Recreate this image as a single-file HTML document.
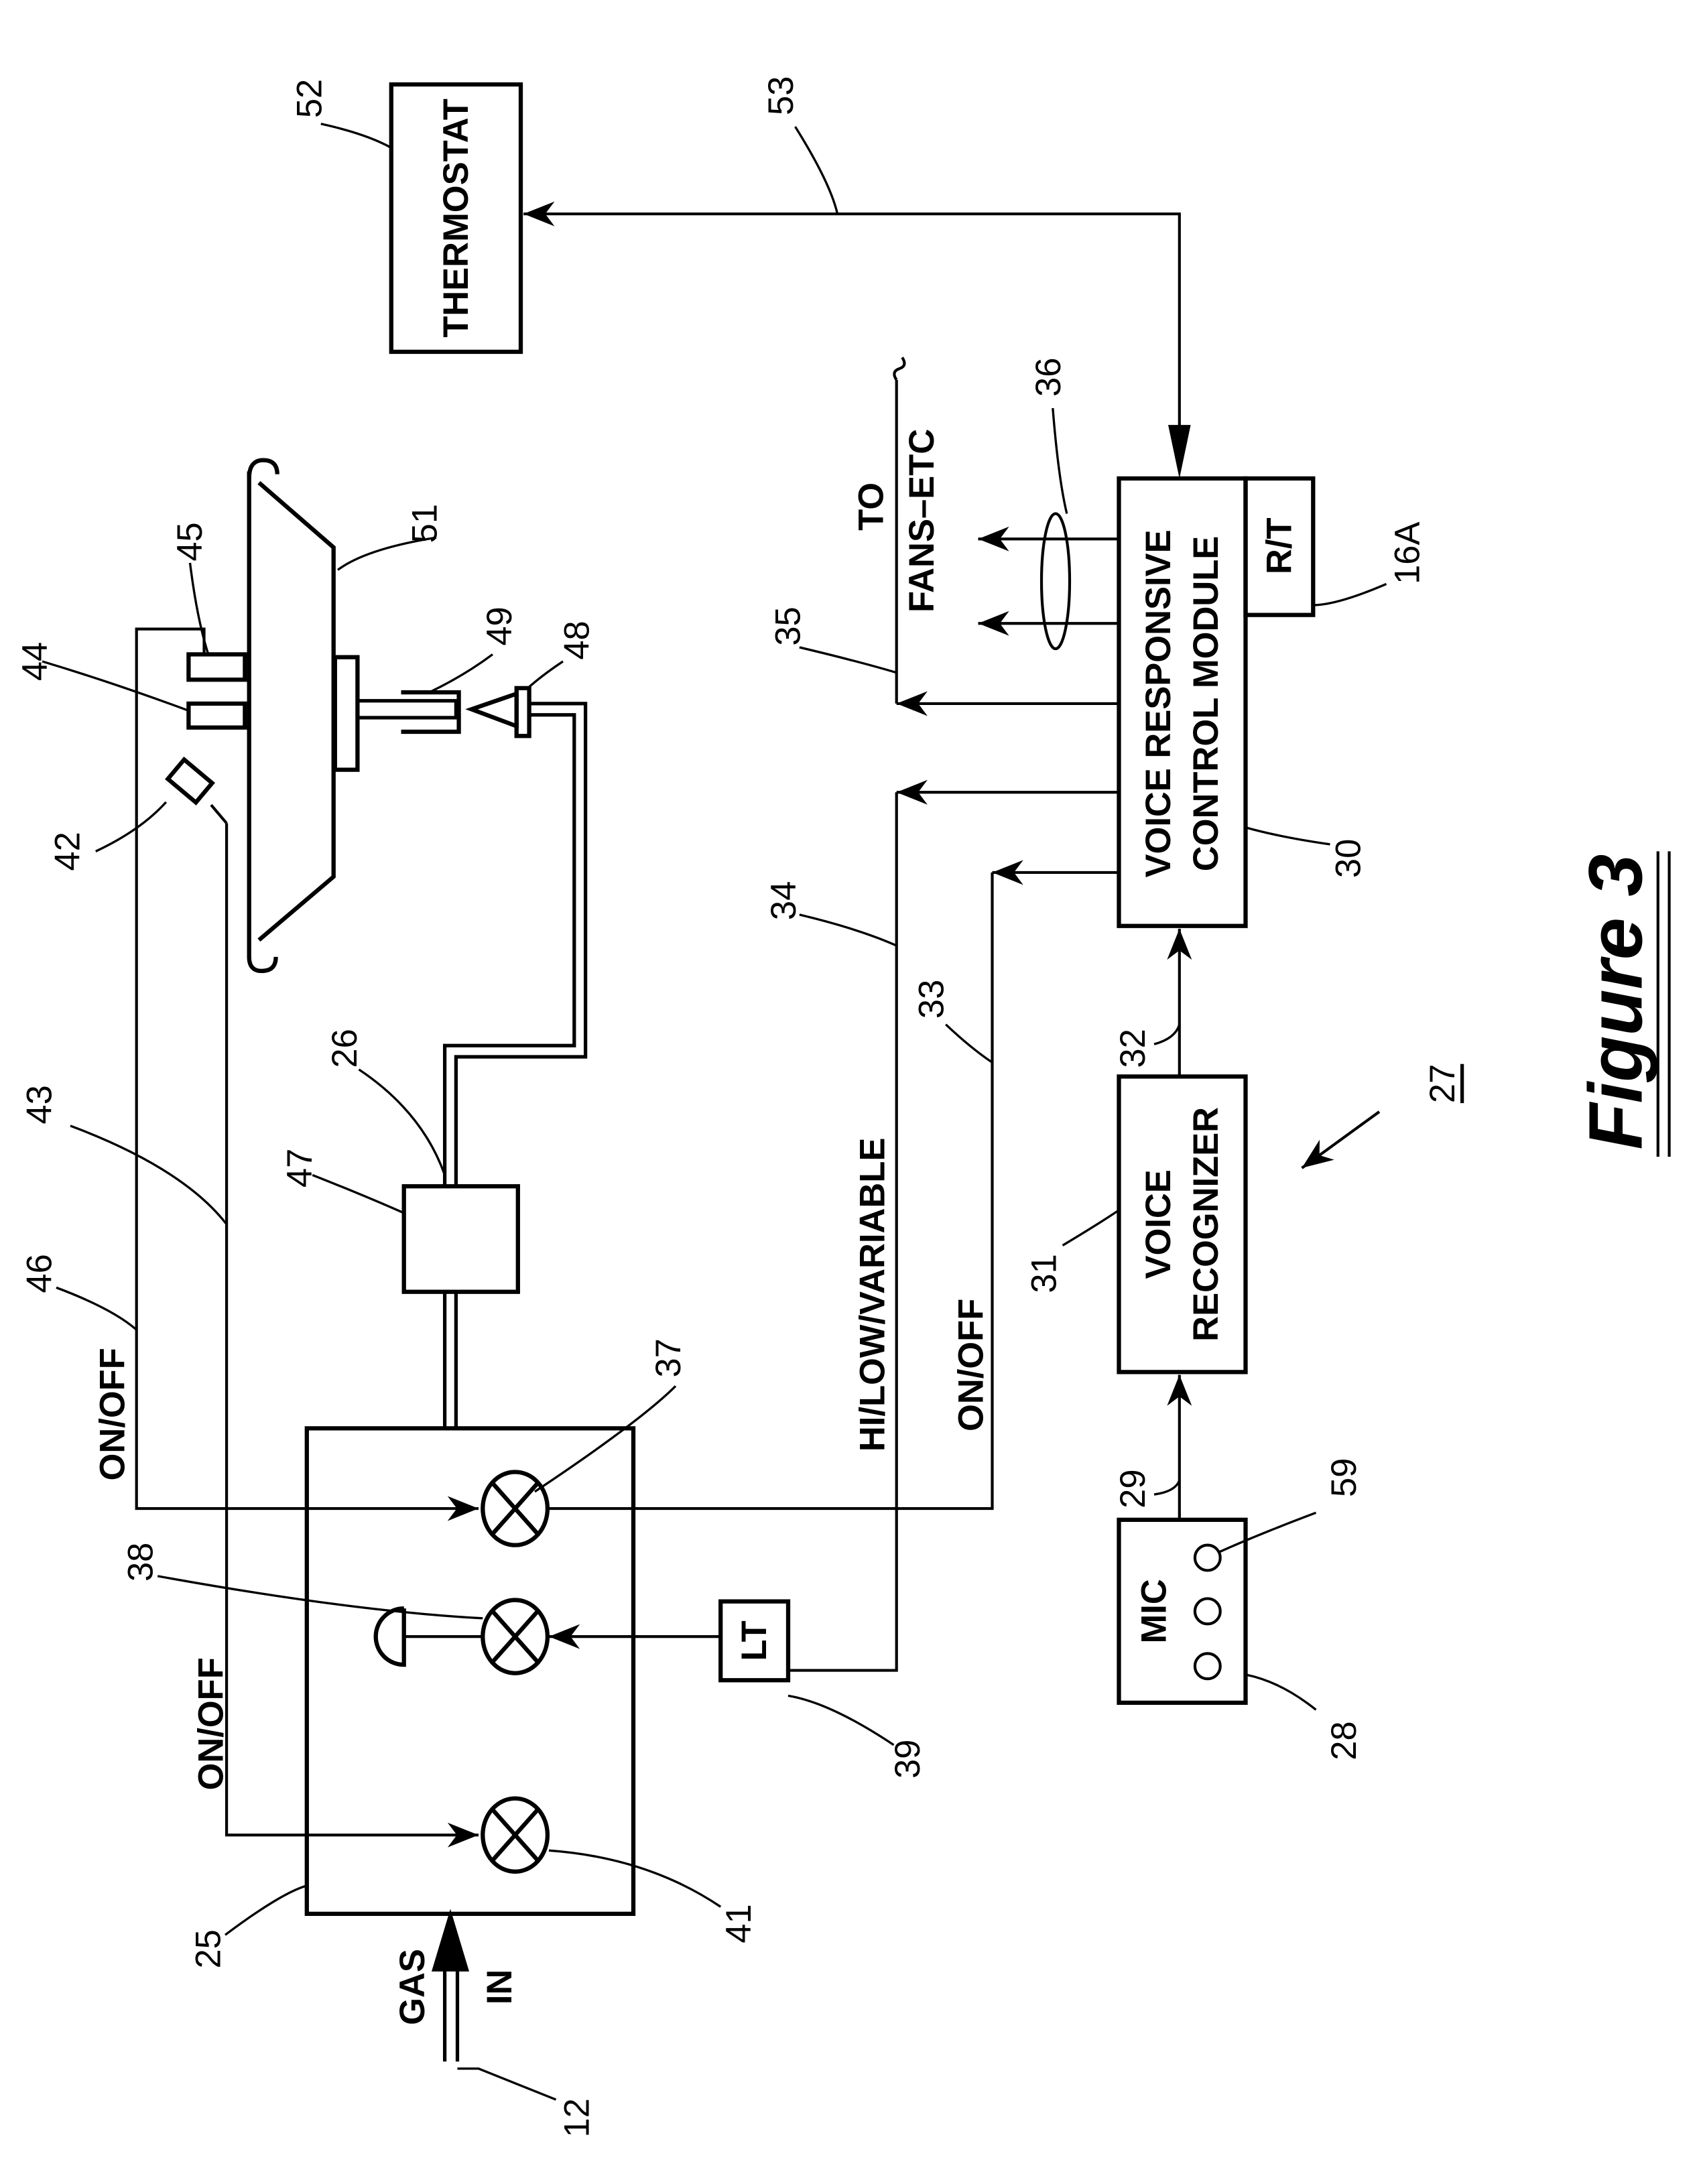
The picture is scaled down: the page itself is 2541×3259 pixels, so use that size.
<!DOCTYPE html>
<html><head><meta charset="utf-8"><style>
html,body{margin:0;padding:0;background:#fff}
svg{display:block}
text{font-family:"Liberation Sans",sans-serif}
.n{font-size:25px}
.b{font-size:25px;font-weight:bold}
</style></head><body>
<svg width="2541" height="3259" viewBox="0 0 1210 1552" preserveAspectRatio="none" xmlns="http://www.w3.org/2000/svg">
<defs>
<marker id="A" viewBox="0 0 10 10" refX="10" refY="5" markerWidth="22" markerHeight="22" markerUnits="userSpaceOnUse" orient="auto"><path d="M0,1 L10,5 L0,9 L3,5 Z" fill="#000"/></marker>
</defs>
<g fill="none" stroke="#000" stroke-width="2">
<rect x="218" y="1015" width="232" height="345" stroke-width="3"/>
<g stroke-width="3">
<ellipse cx="366" cy="1072" rx="23" ry="26"/><path d="M350,1054 L382,1090 M382,1054 L350,1090"/>
<ellipse cx="366" cy="1163" rx="23" ry="26"/><path d="M350,1145 L382,1181 M382,1145 L350,1181"/>
<ellipse cx="366" cy="1304" rx="23" ry="26"/><path d="M350,1286 L382,1322 M382,1286 L350,1322"/>
<path d="M287,1143 L287,1183 A20,20 0 0 1 287,1143"/>
</g>
<line x1="287" y1="1163" x2="343" y2="1163"/>
<polyline points="145,465 145,447 97,447 97,1072 340,1072" marker-end="url(#A)"/>
<polyline points="161,585 161,1304 340,1304" marker-end="url(#A)"/>
<path d="M150,572 L161,585"/>
<rect x="122" y="546" width="26" height="18" transform="rotate(40 135 555)" stroke-width="3"/>
<rect x="134" y="465" width="40" height="18" stroke-width="3"/>
<rect x="134" y="500" width="40" height="17" stroke-width="3"/>
<g stroke-width="3">
<path d="M177,335 L177,680 Q177,690 186,690 Q196,690 196,680"/>
<path d="M177,340 Q177,327 187,327 Q197,327 197,337"/>
<path d="M184,343 L237,389 L237,623 L184,668"/>
<rect x="238" y="467" width="16" height="80"/>
<rect x="254" y="498" width="70" height="12" stroke-width="2.5"/>
<path d="M285,492 L326,492 L326,520 L285,520"/>
<path d="M335,504 L367,493 L367,516 Z"/>
<rect x="367" y="489" width="9" height="34"/>
</g>
<g stroke-width="2.5">
<path d="M376,500 L416,500 L416,751 L324,751 L324,843"/>
<path d="M376,508 L408,508 L408,743 L316,743 L316,843"/>
<path d="M324,918 L324,1015 M316,918 L316,1015"/>
</g>
<rect x="287" y="843" width="81" height="75" stroke-width="3"/>
<path d="M316,1465 L316,1395 M325,1465 L325,1395" stroke-width="2.5"/>
<path d="M320,1360 L308,1400 L332,1400 Z" fill="#000"/>
<rect x="512" y="1138" width="48" height="56" stroke-width="3"/>
<line x1="512" y1="1163" x2="390" y2="1163" marker-end="url(#A)"/>
<polyline points="560,1187 637,1187 637,563"/>
<line x1="795" y1="563" x2="637" y2="563" marker-end="url(#A)"/>
<polyline points="390,1072 705,1072 705,620"/>
<line x1="795" y1="620" x2="705" y2="620" marker-end="url(#A)"/>
<polyline points="637,500 637,270"/>
<line x1="795" y1="500" x2="637" y2="500" marker-end="url(#A)"/>
<path d="M637,270 q-4,-6 2,-8 q6,-2 2,-8"/>
<line x1="795" y1="443" x2="695" y2="443" marker-end="url(#A)"/>
<line x1="795" y1="383" x2="695" y2="383" marker-end="url(#A)"/>
<ellipse cx="750" cy="413" rx="10" ry="48"/>
<rect x="795" y="340" width="90" height="318" stroke-width="3"/>
<rect x="885" y="340" width="48" height="97" stroke-width="3"/>
<rect x="278" y="60" width="92" height="190" stroke-width="3"/>
<polyline points="838,320 838,152 372,152" marker-end="url(#A)"/>
<path d="M838,340 L830,302 L846,302 Z" fill="#000" stroke="none"/>
<rect x="795" y="765" width="90" height="210" stroke-width="3"/>
<line x1="838" y1="765" x2="838" y2="660" marker-end="url(#A)"/>
<rect x="795" y="1080" width="90" height="130" stroke-width="3"/>
<line x1="838" y1="1080" x2="838" y2="977" marker-end="url(#A)"/>
<circle cx="858" cy="1107" r="9"/><circle cx="858" cy="1145" r="9"/><circle cx="858" cy="1184" r="9"/>
<line x1="980" y1="790" x2="925" y2="830" marker-end="url(#A)"/>
<path d="M1178,605 L1178,822 M1186,605 L1186,822" stroke-width="2"/>
<g stroke-width="1.6">
<path d="M228,88 Q260,95 278,105"/>
<path d="M565,90 Q590,130 595,152"/>
<path d="M748,290 Q752,340 758,365"/>
<path d="M985,415 Q950,430 933,430"/>
<path d="M568,460 Q610,470 637,478"/>
<path d="M568,650 Q610,660 637,672"/>
<path d="M672,728 Q690,745 705,755"/>
<path d="M820,742 Q835,738 838,728"/>
<path d="M755,885 Q780,870 795,860"/>
<path d="M945,600 Q910,595 885,588"/>
<path d="M820,1062 Q835,1060 838,1052"/>
<path d="M935,1075 Q895,1090 866,1103"/>
<path d="M935,1215 Q910,1195 885,1190"/>
<path d="M635,1240 Q590,1210 560,1205"/>
<path d="M512,1355 Q460,1320 390,1315"/>
<path d="M160,1375 Q200,1345 218,1340"/>
<path d="M395,1492 Q360,1478 340,1470 L325,1470"/>
<path d="M112,1120 Q250,1145 343,1150"/>
<path d="M480,985 Q455,1010 380,1060"/>
<path d="M40,915 Q80,930 97,945"/>
<path d="M50,800 Q130,830 161,870"/>
<path d="M222,835 Q260,850 287,862"/>
<path d="M255,760 Q300,790 316,835"/>
<path d="M68,605 Q100,590 118,570"/>
<path d="M30,470 Q80,485 134,505"/>
<path d="M135,400 Q140,440 148,465"/>
<path d="M310,382 Q260,390 240,405"/>
<path d="M350,465 Q330,480 305,492"/>
<path d="M400,470 Q385,480 375,489"/>
</g>
</g>
<g fill="#000">
<g class="n">
<text transform="translate(220,70) rotate(-90)" text-anchor="middle" dominant-baseline="central">52</text>
<text transform="translate(555,68) rotate(-90)" text-anchor="middle" dominant-baseline="central">53</text>
<text transform="translate(745,268) rotate(-90)" text-anchor="middle" dominant-baseline="central">36</text>
<text transform="translate(1000,393) rotate(-90)" text-anchor="middle" dominant-baseline="central">16A</text>
<text transform="translate(560,445) rotate(-90)" text-anchor="middle" dominant-baseline="central">35</text>
<text transform="translate(557,640) rotate(-90)" text-anchor="middle" dominant-baseline="central">34</text>
<text transform="translate(662,710) rotate(-90)" text-anchor="middle" dominant-baseline="central">33</text>
<text transform="translate(805,745) rotate(-90)" text-anchor="middle" dominant-baseline="central">32</text>
<text transform="translate(742,905) rotate(-90)" text-anchor="middle" dominant-baseline="central">31</text>
<text transform="translate(958,610) rotate(-90)" text-anchor="middle" dominant-baseline="central">30</text>
<text transform="translate(1025,770) rotate(-90)" text-anchor="middle" dominant-baseline="central" text-decoration="underline">27</text>
<text transform="translate(805,1058) rotate(-90)" text-anchor="middle" dominant-baseline="central">29</text>
<text transform="translate(955,1050) rotate(-90)" text-anchor="middle" dominant-baseline="central">59</text>
<text transform="translate(955,1237) rotate(-90)" text-anchor="middle" dominant-baseline="central">28</text>
<text transform="translate(645,1250) rotate(-90)" text-anchor="middle" dominant-baseline="central">39</text>
<text transform="translate(525,1367) rotate(-90)" text-anchor="middle" dominant-baseline="central">41</text>
<text transform="translate(148,1385) rotate(-90)" text-anchor="middle" dominant-baseline="central">25</text>
<text transform="translate(410,1505) rotate(-90)" text-anchor="middle" dominant-baseline="central">12</text>
<text transform="translate(100,1110) rotate(-90)" text-anchor="middle" dominant-baseline="central">38</text>
<text transform="translate(475,965) rotate(-90)" text-anchor="middle" dominant-baseline="central">37</text>
<text transform="translate(28,905) rotate(-90)" text-anchor="middle" dominant-baseline="central">46</text>
<text transform="translate(28,785) rotate(-90)" text-anchor="middle" dominant-baseline="central">43</text>
<text transform="translate(213,830) rotate(-90)" text-anchor="middle" dominant-baseline="central">47</text>
<text transform="translate(245,745) rotate(-90)" text-anchor="middle" dominant-baseline="central">26</text>
<text transform="translate(48,605) rotate(-90)" text-anchor="middle" dominant-baseline="central">42</text>
<text transform="translate(25,470) rotate(-90)" text-anchor="middle" dominant-baseline="central">44</text>
<text transform="translate(135,385) rotate(-90)" text-anchor="middle" dominant-baseline="central">45</text>
<text transform="translate(302,372) rotate(-90)" text-anchor="middle" dominant-baseline="central">51</text>
<text transform="translate(355,445) rotate(-90)" text-anchor="middle" dominant-baseline="central">49</text>
<text transform="translate(410,455) rotate(-90)" text-anchor="middle" dominant-baseline="central">48</text>
</g>
<g class="b">
<text transform="translate(324,155) rotate(-90)" text-anchor="middle" dominant-baseline="central">THERMOSTAT</text>
<text transform="translate(619,360) rotate(-90)" text-anchor="middle" dominant-baseline="central">TO</text>
<text transform="translate(655,370) rotate(-90)" text-anchor="middle" dominant-baseline="central">FANS–ETC</text>
<text transform="translate(823,500) rotate(-90)" text-anchor="middle" dominant-baseline="central">VOICE RESPONSIVE</text>
<text transform="translate(857,500) rotate(-90)" text-anchor="middle" dominant-baseline="central">CONTROL MODULE</text>
<text transform="translate(909,388) rotate(-90)" text-anchor="middle" dominant-baseline="central">R/T</text>
<text transform="translate(823,870) rotate(-90)" text-anchor="middle" dominant-baseline="central">VOICE</text>
<text transform="translate(857,870) rotate(-90)" text-anchor="middle" dominant-baseline="central">RECOGNIZER</text>
<text transform="translate(820,1145) rotate(-90)" text-anchor="middle" dominant-baseline="central">MIC</text>
<text transform="translate(536,1166) rotate(-90)" text-anchor="middle" dominant-baseline="central">LT</text>
<text transform="translate(620,920) rotate(-90)" text-anchor="middle" dominant-baseline="central">HI/LOW/VARIABLE</text>
<text transform="translate(690,970) rotate(-90)" text-anchor="middle" dominant-baseline="central">ON/OFF</text>
<text transform="translate(80,1005) rotate(-90)" text-anchor="middle" dominant-baseline="central">ON/OFF</text>
<text transform="translate(150,1225) rotate(-90)" text-anchor="middle" dominant-baseline="central">ON/OFF</text>
<text transform="translate(293,1412) rotate(-90)" text-anchor="middle" dominant-baseline="central">GAS</text>
<text transform="translate(355,1412) rotate(-90)" text-anchor="middle" dominant-baseline="central">IN</text>
<text transform="translate(1148,712) rotate(-90)" text-anchor="middle" dominant-baseline="central" style="font-size:54px;font-style:italic">Figure 3</text>
</g>
</g>
</svg>
</body></html>
